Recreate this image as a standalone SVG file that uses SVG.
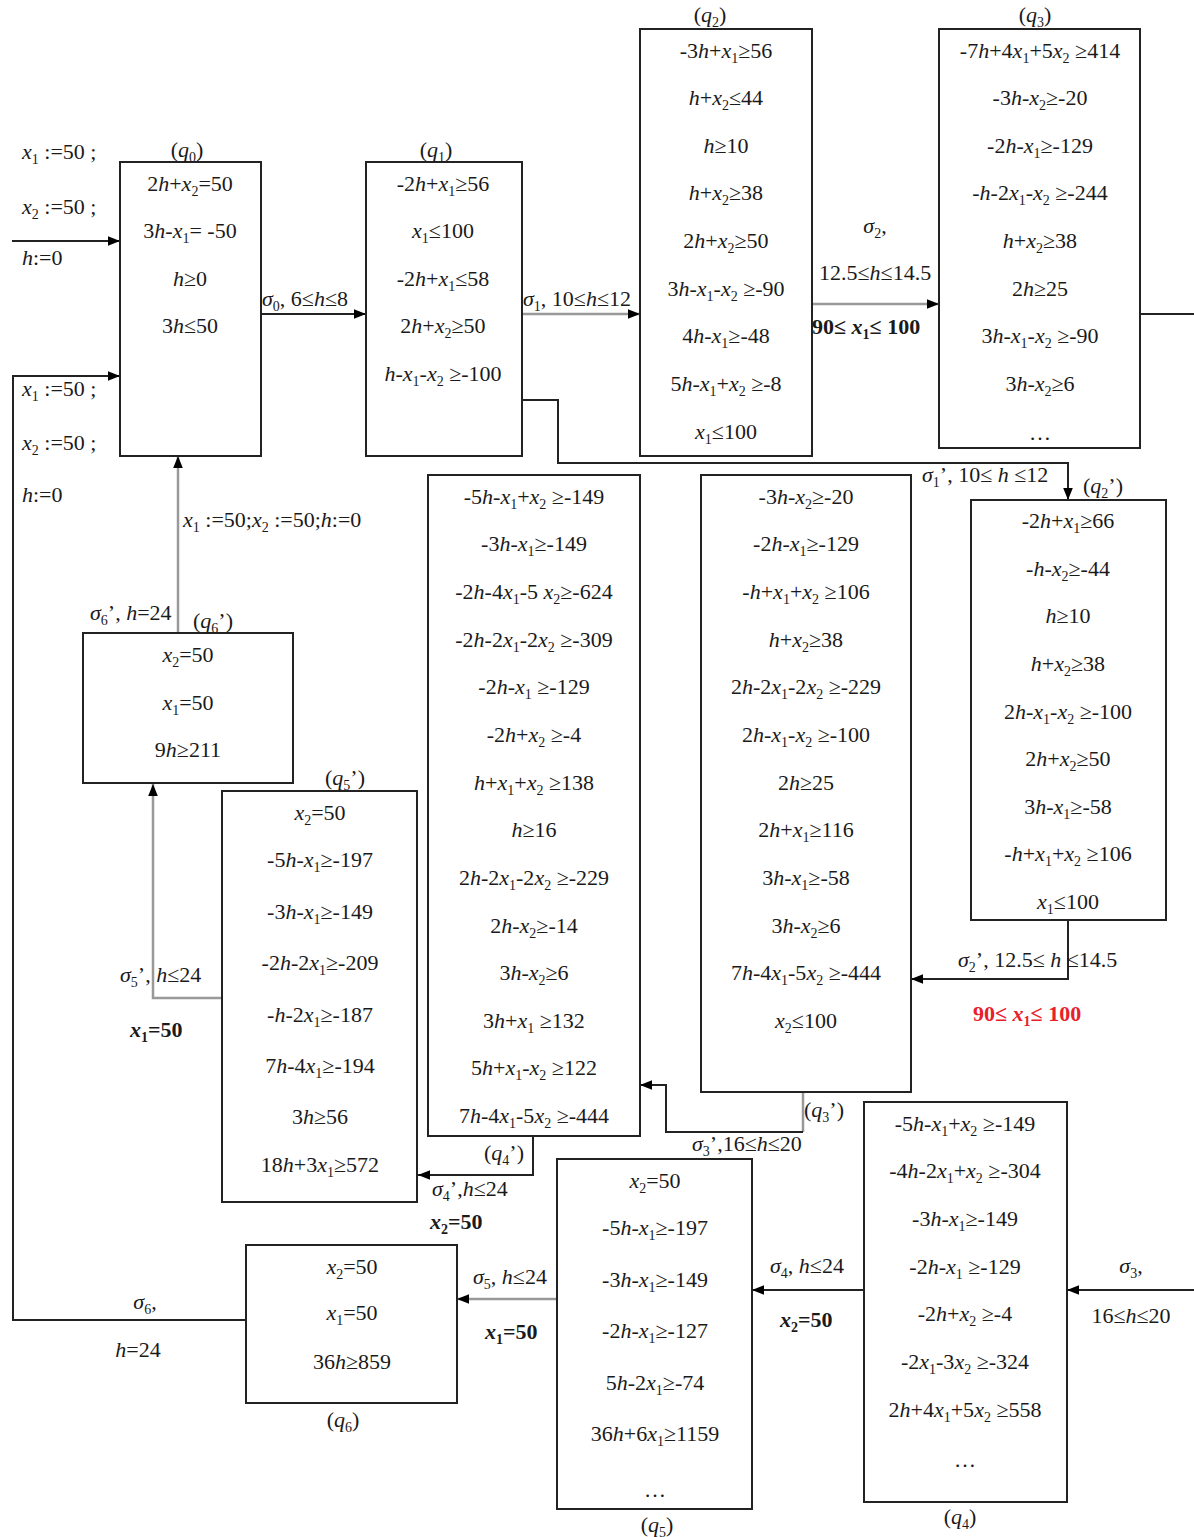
<svg xmlns="http://www.w3.org/2000/svg" width="1194" height="1537" viewBox="0 0 1194 1537">
<defs>
<marker id="a" viewBox="0 0 10 10" refX="10" refY="5" markerWidth="12" markerHeight="12" markerUnits="userSpaceOnUse" orient="auto"><path d="M0,1 L10,5 L0,9 z" fill="#000"/></marker>
<style>
.t{font-family:"Liberation Serif","Times New Roman",serif;font-size:22px;fill:#1a1a1a}
.c{text-anchor:middle}
.i{font-style:italic}
.s{font-size:14px;baseline-shift:-5px}
.b{font-weight:bold}
.red{fill:#e8202a}
.box{fill:#fff;stroke:#222;stroke-width:2}
.ln{fill:none;stroke:#222;stroke-width:2}
.gr{fill:none;stroke:#999;stroke-width:2.5}
</style>
</defs>
<rect width="1194" height="1537" fill="#fff"/>

<g id="connectors">
<path class="ln" d="M12 241 H120" marker-end="url(#a)"/>
<path class="ln" d="M246 1320 H13 V376 H120" marker-end="url(#a)"/>
<path class="ln" d="M261 314 H366" marker-end="url(#a)"/>
<path class="gr" d="M522 314 H640" marker-end="url(#a)"/>
<path class="gr" d="M812 304 H939" marker-end="url(#a)"/>
<path class="ln" d="M1140 314 H1194"/>
<path class="ln" d="M522 400 H558 V463 H1068 V500" marker-end="url(#a)"/>
<path class="ln" d="M1068 920 V979 H911" marker-end="url(#a)"/>
<path class="gr" d="M803 1092 V1132"/>
<path class="ln" d="M803 1132 H666 V1085 H640" marker-end="url(#a)"/>
<path class="ln" d="M533 1136 V1175 H418" marker-end="url(#a)"/>
<path class="gr" d="M222 998 H153 V784" marker-end="url(#a)"/>
<path class="gr" d="M178 633 V456" marker-end="url(#a)"/>
<path class="ln" d="M1194 1290 H1067" marker-end="url(#a)"/>
<path class="ln" d="M864 1290 H752" marker-end="url(#a)"/>
<path class="gr" d="M557 1299 H457" marker-end="url(#a)"/>
</g>

<g id="edge-labels" class="t">
<text x="22" y="159"><tspan class="i">x</tspan><tspan class="s">1</tspan> :=50 ;</text>
<text x="22" y="214"><tspan class="i">x</tspan><tspan class="s">2</tspan> :=50 ;</text>
<text x="22" y="265"><tspan class="i">h</tspan>:=0</text>
<text x="22" y="396"><tspan class="i">x</tspan><tspan class="s">1</tspan> :=50 ;</text>
<text x="22" y="450"><tspan class="i">x</tspan><tspan class="s">2</tspan> :=50 ;</text>
<text x="22" y="502"><tspan class="i">h</tspan>:=0</text>
<text x="262" y="306"><tspan class="i">σ</tspan><tspan class="s">0</tspan>, 6≤<tspan class="i">h</tspan>≤8</text>
<text x="523" y="306"><tspan class="i">σ</tspan><tspan class="s">1</tspan>, 10≤<tspan class="i">h</tspan>≤12</text>
<text class="c" x="875" y="233"><tspan class="i">σ</tspan><tspan class="s">2</tspan>,</text>
<text x="819" y="280">12.5≤<tspan class="i">h</tspan>≤14.5</text>
<text class="b" x="812" y="334">90≤ <tspan class="i">x</tspan><tspan class="s">1</tspan>≤ 100</text>
<text x="922" y="482"><tspan class="i">σ</tspan><tspan class="s">1</tspan>’, 10≤ <tspan class="i">h</tspan> ≤12</text>
<text x="958" y="967"><tspan class="i">σ</tspan><tspan class="s">2</tspan>’, 12.5≤ <tspan class="i">h</tspan> ≤14.5</text>
<text class="b red" x="973" y="1021">90≤ <tspan class="i">x</tspan><tspan class="s">1</tspan>≤ 100</text>
<text x="183" y="527"><tspan class="i">x</tspan><tspan class="s">1</tspan> :=50;<tspan class="i">x</tspan><tspan class="s">2</tspan> :=50;<tspan class="i">h</tspan>:=0</text>
<text x="90" y="620"><tspan class="i">σ</tspan><tspan class="s">6</tspan>’, <tspan class="i">h</tspan>=24</text>
<text x="120" y="982"><tspan class="i">σ</tspan><tspan class="s">5</tspan>’, <tspan class="i">h</tspan>≤24</text>
<text class="b" x="130" y="1037"><tspan class="i">x</tspan><tspan class="s">1</tspan>=50</text>
<text x="432" y="1196"><tspan class="i">σ</tspan><tspan class="s">4</tspan>’,<tspan class="i">h</tspan>≤24</text>
<text class="b" x="430" y="1229"><tspan class="i">x</tspan><tspan class="s">2</tspan>=50</text>
<text x="692" y="1151"><tspan class="i">σ</tspan><tspan class="s">3</tspan>’,16≤<tspan class="i">h</tspan>≤20</text>
<text x="473" y="1284"><tspan class="i">σ</tspan><tspan class="s">5</tspan>, <tspan class="i">h</tspan>≤24</text>
<text class="b" x="485" y="1339"><tspan class="i">x</tspan><tspan class="s">1</tspan>=50</text>
<text x="770" y="1273"><tspan class="i">σ</tspan><tspan class="s">4</tspan>, <tspan class="i">h</tspan>≤24</text>
<text class="b" x="780" y="1327"><tspan class="i">x</tspan><tspan class="s">2</tspan>=50</text>
<text class="c" x="1131" y="1273"><tspan class="i">σ</tspan><tspan class="s">3</tspan>,</text>
<text class="c" x="1131" y="1323">16≤<tspan class="i">h</tspan>≤20</text>
<text class="c" x="145" y="1309"><tspan class="i">σ</tspan><tspan class="s">6</tspan>,</text>
<text class="c" x="138" y="1357"><tspan class="i">h</tspan>=24</text>
</g>

<g id="q0" class="t">
<rect class="box" x="120" y="162" width="141" height="294"/>
<text class="c" x="187" y="157">(<tspan class="i">q</tspan><tspan class="s">0</tspan>)</text>
<text class="c" x="190" y="191">2<tspan class="i">h</tspan>+<tspan class="i">x</tspan><tspan class="s">2</tspan>=50</text>
<text class="c" x="190" y="238">3<tspan class="i">h</tspan>-<tspan class="i">x</tspan><tspan class="s">1</tspan>= -50</text>
<text class="c" x="190" y="286"><tspan class="i">h</tspan>≥0</text>
<text class="c" x="190" y="333">3<tspan class="i">h</tspan>≤50</text>
</g>

<g id="q1" class="t">
<rect class="box" x="366" y="162" width="156" height="294"/>
<text class="c" x="436" y="157">(<tspan class="i">q</tspan><tspan class="s">1</tspan>)</text>
<text class="c" x="443" y="191">-2<tspan class="i">h</tspan>+<tspan class="i">x</tspan><tspan class="s">1</tspan>≥56</text>
<text class="c" x="443" y="238"><tspan class="i">x</tspan><tspan class="s">1</tspan>≤100</text>
<text class="c" x="443" y="286">-2<tspan class="i">h</tspan>+<tspan class="i">x</tspan><tspan class="s">1</tspan>≤58</text>
<text class="c" x="443" y="333">2<tspan class="i">h</tspan>+<tspan class="i">x</tspan><tspan class="s">2</tspan>≥50</text>
<text class="c" x="443" y="381"><tspan class="i">h</tspan>-<tspan class="i">x</tspan><tspan class="s">1</tspan>-<tspan class="i">x</tspan><tspan class="s">2</tspan> ≥-100</text>
</g>

<g id="q2" class="t">
<rect class="box" x="640" y="29" width="172" height="427"/>
<text class="c" x="710" y="22">(<tspan class="i">q</tspan><tspan class="s">2</tspan>)</text>
<text class="c" x="726" y="58">-3<tspan class="i">h</tspan>+<tspan class="i">x</tspan><tspan class="s">1</tspan>≥56</text>
<text class="c" x="726" y="105"><tspan class="i">h</tspan>+<tspan class="i">x</tspan><tspan class="s">2</tspan>≤44</text>
<text class="c" x="726" y="153"><tspan class="i">h</tspan>≥10</text>
<text class="c" x="726" y="200"><tspan class="i">h</tspan>+<tspan class="i">x</tspan><tspan class="s">2</tspan>≥38</text>
<text class="c" x="726" y="248">2<tspan class="i">h</tspan>+<tspan class="i">x</tspan><tspan class="s">2</tspan>≥50</text>
<text class="c" x="726" y="296">3<tspan class="i">h</tspan>-<tspan class="i">x</tspan><tspan class="s">1</tspan>-<tspan class="i">x</tspan><tspan class="s">2</tspan> ≥-90</text>
<text class="c" x="726" y="343">4<tspan class="i">h</tspan>-<tspan class="i">x</tspan><tspan class="s">1</tspan>≥-48</text>
<text class="c" x="726" y="391">5<tspan class="i">h</tspan>-<tspan class="i">x</tspan><tspan class="s">1</tspan>+<tspan class="i">x</tspan><tspan class="s">2</tspan> ≥-8</text>
<text class="c" x="726" y="439"><tspan class="i">x</tspan><tspan class="s">1</tspan>≤100</text>
</g>

<g id="q3" class="t">
<rect class="box" x="939" y="29" width="201" height="419"/>
<text class="c" x="1035" y="22">(<tspan class="i">q</tspan><tspan class="s">3</tspan>)</text>
<text class="c" x="1040" y="58">-7<tspan class="i">h</tspan>+4<tspan class="i">x</tspan><tspan class="s">1</tspan>+5<tspan class="i">x</tspan><tspan class="s">2</tspan> ≥414</text>
<text class="c" x="1040" y="105">-3<tspan class="i">h</tspan>-<tspan class="i">x</tspan><tspan class="s">2</tspan>≥-20</text>
<text class="c" x="1040" y="153">-2<tspan class="i">h</tspan>-<tspan class="i">x</tspan><tspan class="s">1</tspan>≥-129</text>
<text class="c" x="1040" y="200">-<tspan class="i">h</tspan>-2<tspan class="i">x</tspan><tspan class="s">1</tspan>-<tspan class="i">x</tspan><tspan class="s">2</tspan> ≥-244</text>
<text class="c" x="1040" y="248"><tspan class="i">h</tspan>+<tspan class="i">x</tspan><tspan class="s">2</tspan>≥38</text>
<text class="c" x="1040" y="296">2<tspan class="i">h</tspan>≥25</text>
<text class="c" x="1040" y="343">3<tspan class="i">h</tspan>-<tspan class="i">x</tspan><tspan class="s">1</tspan>-<tspan class="i">x</tspan><tspan class="s">2</tspan> ≥-90</text>
<text class="c" x="1040" y="391">3<tspan class="i">h</tspan>-<tspan class="i">x</tspan><tspan class="s">2</tspan>≥6</text>
<text class="c" x="1040" y="440">…</text>
</g>

<g id="q2p" class="t">
<rect class="box" x="971" y="500" width="195" height="420"/>
<text x="1083" y="493">(<tspan class="i">q</tspan><tspan class="s">2</tspan>’)</text>
<text class="c" x="1068" y="528">-2<tspan class="i">h</tspan>+<tspan class="i">x</tspan><tspan class="s">1</tspan>≥66</text>
<text class="c" x="1068" y="576">-<tspan class="i">h</tspan>-<tspan class="i">x</tspan><tspan class="s">2</tspan>≥-44</text>
<text class="c" x="1068" y="623"><tspan class="i">h</tspan>≥10</text>
<text class="c" x="1068" y="671"><tspan class="i">h</tspan>+<tspan class="i">x</tspan><tspan class="s">2</tspan>≥38</text>
<text class="c" x="1068" y="719">2<tspan class="i">h</tspan>-<tspan class="i">x</tspan><tspan class="s">1</tspan>-<tspan class="i">x</tspan><tspan class="s">2</tspan> ≥-100</text>
<text class="c" x="1068" y="766">2<tspan class="i">h</tspan>+<tspan class="i">x</tspan><tspan class="s">2</tspan>≥50</text>
<text class="c" x="1068" y="814">3<tspan class="i">h</tspan>-<tspan class="i">x</tspan><tspan class="s">1</tspan>≥-58</text>
<text class="c" x="1068" y="861">-<tspan class="i">h</tspan>+<tspan class="i">x</tspan><tspan class="s">1</tspan>+<tspan class="i">x</tspan><tspan class="s">2</tspan> ≥106</text>
<text class="c" x="1068" y="909"><tspan class="i">x</tspan><tspan class="s">1</tspan>≤100</text>
</g>

<g id="q3p" class="t">
<rect class="box" x="701" y="475" width="210" height="617"/>
<text x="804" y="1117">(<tspan class="i">q</tspan><tspan class="s">3</tspan>’)</text>
<text class="c" x="806" y="504">-3<tspan class="i">h</tspan>-<tspan class="i">x</tspan><tspan class="s">2</tspan>≥-20</text>
<text class="c" x="806" y="551">-2<tspan class="i">h</tspan>-<tspan class="i">x</tspan><tspan class="s">1</tspan>≥-129</text>
<text class="c" x="806" y="599">-<tspan class="i">h</tspan>+<tspan class="i">x</tspan><tspan class="s">1</tspan>+<tspan class="i">x</tspan><tspan class="s">2</tspan> ≥106</text>
<text class="c" x="806" y="647"><tspan class="i">h</tspan>+<tspan class="i">x</tspan><tspan class="s">2</tspan>≥38</text>
<text class="c" x="806" y="694">2<tspan class="i">h</tspan>-2<tspan class="i">x</tspan><tspan class="s">1</tspan>-2<tspan class="i">x</tspan><tspan class="s">2</tspan> ≥-229</text>
<text class="c" x="806" y="742">2<tspan class="i">h</tspan>-<tspan class="i">x</tspan><tspan class="s">1</tspan>-<tspan class="i">x</tspan><tspan class="s">2</tspan> ≥-100</text>
<text class="c" x="806" y="790">2<tspan class="i">h</tspan>≥25</text>
<text class="c" x="806" y="837">2<tspan class="i">h</tspan>+<tspan class="i">x</tspan><tspan class="s">1</tspan>≥116</text>
<text class="c" x="806" y="885">3<tspan class="i">h</tspan>-<tspan class="i">x</tspan><tspan class="s">1</tspan>≥-58</text>
<text class="c" x="806" y="933">3<tspan class="i">h</tspan>-<tspan class="i">x</tspan><tspan class="s">2</tspan>≥6</text>
<text class="c" x="806" y="980">7<tspan class="i">h</tspan>-4<tspan class="i">x</tspan><tspan class="s">1</tspan>-5<tspan class="i">x</tspan><tspan class="s">2</tspan> ≥-444</text>
<text class="c" x="806" y="1028"><tspan class="i">x</tspan><tspan class="s">2</tspan>≤100</text>
</g>

<g id="q4p" class="t">
<rect class="box" x="428" y="475" width="212" height="661"/>
<text x="484" y="1160">(<tspan class="i">q</tspan><tspan class="s">4</tspan>’)</text>
<text class="c" x="534" y="504">-5<tspan class="i">h</tspan>-<tspan class="i">x</tspan><tspan class="s">1</tspan>+<tspan class="i">x</tspan><tspan class="s">2</tspan> ≥-149</text>
<text class="c" x="534" y="551">-3<tspan class="i">h</tspan>-<tspan class="i">x</tspan><tspan class="s">1</tspan>≥-149</text>
<text class="c" x="534" y="599">-2<tspan class="i">h</tspan>-4<tspan class="i">x</tspan><tspan class="s">1</tspan>-5 <tspan class="i">x</tspan><tspan class="s">2</tspan>≥-624</text>
<text class="c" x="534" y="647">-2<tspan class="i">h</tspan>-2<tspan class="i">x</tspan><tspan class="s">1</tspan>-2<tspan class="i">x</tspan><tspan class="s">2</tspan> ≥-309</text>
<text class="c" x="534" y="694">-2<tspan class="i">h</tspan>-<tspan class="i">x</tspan><tspan class="s">1</tspan> ≥-129</text>
<text class="c" x="534" y="742">-2<tspan class="i">h</tspan>+<tspan class="i">x</tspan><tspan class="s">2</tspan> ≥-4</text>
<text class="c" x="534" y="790"><tspan class="i">h</tspan>+<tspan class="i">x</tspan><tspan class="s">1</tspan>+<tspan class="i">x</tspan><tspan class="s">2</tspan> ≥138</text>
<text class="c" x="534" y="837"><tspan class="i">h</tspan>≥16</text>
<text class="c" x="534" y="885">2<tspan class="i">h</tspan>-2<tspan class="i">x</tspan><tspan class="s">1</tspan>-2<tspan class="i">x</tspan><tspan class="s">2</tspan> ≥-229</text>
<text class="c" x="534" y="933">2<tspan class="i">h</tspan>-<tspan class="i">x</tspan><tspan class="s">2</tspan>≥-14</text>
<text class="c" x="534" y="980">3<tspan class="i">h</tspan>-<tspan class="i">x</tspan><tspan class="s">2</tspan>≥6</text>
<text class="c" x="534" y="1028">3<tspan class="i">h</tspan>+<tspan class="i">x</tspan><tspan class="s">1</tspan> ≥132</text>
<text class="c" x="534" y="1075">5<tspan class="i">h</tspan>+<tspan class="i">x</tspan><tspan class="s">1</tspan>-<tspan class="i">x</tspan><tspan class="s">2</tspan> ≥122</text>
<text class="c" x="534" y="1123">7<tspan class="i">h</tspan>-4<tspan class="i">x</tspan><tspan class="s">1</tspan>-5<tspan class="i">x</tspan><tspan class="s">2</tspan> ≥-444</text>
</g>

<g id="q5p" class="t">
<rect class="box" x="222" y="791" width="195" height="411"/>
<text x="325" y="785">(<tspan class="i">q</tspan><tspan class="s">5</tspan>’)</text>
<text class="c" x="320" y="820"><tspan class="i">x</tspan><tspan class="s">2</tspan>=50</text>
<text class="c" x="320" y="867">-5<tspan class="i">h</tspan>-<tspan class="i">x</tspan><tspan class="s">1</tspan>≥-197</text>
<text class="c" x="320" y="919">-3<tspan class="i">h</tspan>-<tspan class="i">x</tspan><tspan class="s">1</tspan>≥-149</text>
<text class="c" x="320" y="970">-2<tspan class="i">h</tspan>-2<tspan class="i">x</tspan><tspan class="s">1</tspan>≥-209</text>
<text class="c" x="320" y="1022">-<tspan class="i">h</tspan>-2<tspan class="i">x</tspan><tspan class="s">1</tspan>≥-187</text>
<text class="c" x="320" y="1073">7<tspan class="i">h</tspan>-4<tspan class="i">x</tspan><tspan class="s">1</tspan>≥-194</text>
<text class="c" x="320" y="1124">3<tspan class="i">h</tspan>≥56</text>
<text class="c" x="320" y="1172">18<tspan class="i">h</tspan>+3<tspan class="i">x</tspan><tspan class="s">1</tspan>≥572</text>
</g>

<g id="q6p" class="t">
<rect class="box" x="83" y="633" width="210" height="150"/>
<text x="193" y="628">(<tspan class="i">q</tspan><tspan class="s">6</tspan>’)</text>
<text class="c" x="188" y="662"><tspan class="i">x</tspan><tspan class="s">2</tspan>=50</text>
<text class="c" x="188" y="710"><tspan class="i">x</tspan><tspan class="s">1</tspan>=50</text>
<text class="c" x="188" y="757">9<tspan class="i">h</tspan>≥211</text>
</g>

<g id="q6" class="t">
<rect class="box" x="246" y="1245" width="211" height="158"/>
<text class="c" x="343" y="1427">(<tspan class="i">q</tspan><tspan class="s">6</tspan>)</text>
<text class="c" x="352" y="1274"><tspan class="i">x</tspan><tspan class="s">2</tspan>=50</text>
<text class="c" x="352" y="1320"><tspan class="i">x</tspan><tspan class="s">1</tspan>=50</text>
<text class="c" x="352" y="1369">36<tspan class="i">h</tspan>≥859</text>
</g>

<g id="q5" class="t">
<rect class="box" x="557" y="1159" width="195" height="350"/>
<text class="c" x="657" y="1532">(<tspan class="i">q</tspan><tspan class="s">5</tspan>)</text>
<text class="c" x="655" y="1188"><tspan class="i">x</tspan><tspan class="s">2</tspan>=50</text>
<text class="c" x="655" y="1235">-5<tspan class="i">h</tspan>-<tspan class="i">x</tspan><tspan class="s">1</tspan>≥-197</text>
<text class="c" x="655" y="1287">-3<tspan class="i">h</tspan>-<tspan class="i">x</tspan><tspan class="s">1</tspan>≥-149</text>
<text class="c" x="655" y="1338">-2<tspan class="i">h</tspan>-<tspan class="i">x</tspan><tspan class="s">1</tspan>≥-127</text>
<text class="c" x="655" y="1390">5<tspan class="i">h</tspan>-2<tspan class="i">x</tspan><tspan class="s">1</tspan>≥-74</text>
<text class="c" x="655" y="1441">36<tspan class="i">h</tspan>+6<tspan class="i">x</tspan><tspan class="s">1</tspan>≥1159</text>
<text class="c" x="655" y="1497">…</text>
</g>

<g id="q4" class="t">
<rect class="box" x="864" y="1102" width="203" height="400"/>
<text class="c" x="960" y="1524">(<tspan class="i">q</tspan><tspan class="s">4</tspan>)</text>
<text class="c" x="965" y="1131">-5<tspan class="i">h</tspan>-<tspan class="i">x</tspan><tspan class="s">1</tspan>+<tspan class="i">x</tspan><tspan class="s">2</tspan> ≥-149</text>
<text class="c" x="965" y="1178">-4<tspan class="i">h</tspan>-2<tspan class="i">x</tspan><tspan class="s">1</tspan>+<tspan class="i">x</tspan><tspan class="s">2</tspan> ≥-304</text>
<text class="c" x="965" y="1226">-3<tspan class="i">h</tspan>-<tspan class="i">x</tspan><tspan class="s">1</tspan>≥-149</text>
<text class="c" x="965" y="1274">-2<tspan class="i">h</tspan>-<tspan class="i">x</tspan><tspan class="s">1</tspan> ≥-129</text>
<text class="c" x="965" y="1321">-2<tspan class="i">h</tspan>+<tspan class="i">x</tspan><tspan class="s">2</tspan> ≥-4</text>
<text class="c" x="965" y="1369">-2<tspan class="i">x</tspan><tspan class="s">1</tspan>-3<tspan class="i">x</tspan><tspan class="s">2</tspan> ≥-324</text>
<text class="c" x="965" y="1417">2<tspan class="i">h</tspan>+4<tspan class="i">x</tspan><tspan class="s">1</tspan>+5<tspan class="i">x</tspan><tspan class="s">2</tspan> ≥558</text>
<text class="c" x="965" y="1467">…</text>
</g>
</svg>
